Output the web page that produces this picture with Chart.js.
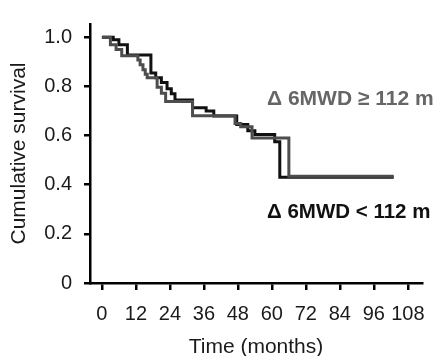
<!DOCTYPE html>
<html>
<head>
<meta charset="utf-8">
<script src="https://cdn.jsdelivr.net/npm/chart.js@4.4.0/dist/chart.umd.min.js"></script>
<style>
  html, body { margin: 0; padding: 0; background: #fff; }
  #wrap { width: 438px; height: 356px; }
</style>
</head>
<body>
<div id="wrap"><canvas id="km"></canvas></div>
<script>
// Kaplan-Meier steps (time in months, cumulative survival)
const highTimes = [0, 3, 5, 7, 12.7, 13.5, 14.5, 15.3, 16, 19.5, 21, 22.5, 32, 47, 49, 53, 66, 103];
const highSurv  = [1.0, 0.97, 0.95, 0.925, 0.907, 0.888, 0.868, 0.85, 0.835, 0.797, 0.772, 0.739, 0.681, 0.649, 0.636, 0.59, 0.434, 0.434];

const lowTimes = [0, 4, 6, 9, 17.3, 19, 21, 23, 24.5, 25.8, 32, 36.8, 39.5, 47.6, 51.5, 54, 61, 62.8, 103];
const lowSurv  = [1.0, 0.99, 0.97, 0.928, 0.855, 0.835, 0.816, 0.79, 0.77, 0.745, 0.713, 0.70, 0.68, 0.645, 0.62, 0.604, 0.575, 0.43, 0.43];

const xTicks = [0, 12, 24, 36, 48, 60, 72, 84, 96, 108];
const yTicks = [0, 0.2, 0.4, 0.6, 0.8, 1.0];

const groupLabels = ['\u0394 6MWD \u2265 112 m', '\u0394 6MWD < 112 m'];

const FONT = '"Liberation Sans", Arial, Helvetica, sans-serif';

const toPoints = (ts, ss) => ts.map((t, i) => ({ x: t, y: ss[i] }));

// text labels placed next to the curves
const curveLabels = {
  id: 'curveLabels',
  afterDatasetsDraw(chart) {
    const { ctx } = chart;
    const spots = [
      { left: 267, mid: 99, color: '#666666', size: 21 },
      { left: 267, mid: 212, color: '#111111', size: 20.5 }
    ];
    ctx.save();
    ctx.textBaseline = 'middle';
    ctx.textAlign = 'left';
    groupLabels.forEach((txt, i) => {
      ctx.font = 'bold ' + spots[i].size + 'px ' + FONT;
      ctx.fillStyle = spots[i].color;
      ctx.fillText(txt, spots[i].left, spots[i].mid);
    });
    ctx.restore();
  }
};

new Chart(document.getElementById('km'), {
  type: 'line',
  data: {
    datasets: [
      {
        label: groupLabels[0],
        data: toPoints(highTimes, highSurv),
        borderColor: '#4d4d4d',
        borderWidth: 3,
        stepped: true,
        pointRadius: 0,
        fill: false
      },
      {
        label: groupLabels[1],
        data: toPoints(lowTimes, lowSurv),
        borderColor: '#111111',
        borderWidth: 3,
        stepped: true,
        pointRadius: 0,
        fill: false
      }
    ]
  },
  options: {
    responsive: true,
    maintainAspectRatio: false,
    animation: false,
    layout: { padding: { top: 10, right: 16, left: 0, bottom: 0 } },
    plugins: {
      legend: { display: false },
      tooltip: { enabled: false }
    },
    scales: {
      x: {
        type: 'linear',
        min: -4.2,
        max: 113,
        afterBuildTicks: (scale) => { scale.ticks = xTicks.map(v => ({ value: v })); },
        afterFit: (scale) => { scale.height = 73; },
        border: { display: true, color: '#000', width: 2.5 },
        grid: { drawOnChartArea: false, drawTicks: true, tickLength: 7, color: '#000', lineWidth: 2.5 },
        ticks: {
          padding: 12,
          color: '#1a1a1a',
          font: { family: FONT, size: 20 },
          maxRotation: 0,
          autoSkip: false
        },
        title: {
          display: true,
          text: 'Time (months)',
          color: '#1a1a1a',
          font: { family: FONT, size: 21, lineHeight: 1 },
          padding: { top: 0, bottom: -2 }
        }
      },
      y: {
        type: 'linear',
        min: 0,
        max: 1.054,
        afterBuildTicks: (scale) => { scale.ticks = yTicks.map(v => ({ value: v })); },
        afterFit: (scale) => { scale.width = 90; },
        border: { display: true, color: '#000', width: 2.5 },
        grid: { drawOnChartArea: false, drawTicks: true, tickLength: 6, color: '#000', lineWidth: 2.5 },
        ticks: {
          padding: 12,
          color: '#1a1a1a',
          font: { family: FONT, size: 20 },
          callback: (v) => (v === 0 ? '0' : v.toFixed(1))
        },
        title: {
          display: true,
          text: 'Cumulative survival',
          color: '#1a1a1a',
          font: { family: FONT, size: 21, lineHeight: 1 },
          padding: { top: 9, bottom: 0 }
        }
      }
    }
  },
  plugins: [curveLabels]
});
</script>
</body>
</html>
